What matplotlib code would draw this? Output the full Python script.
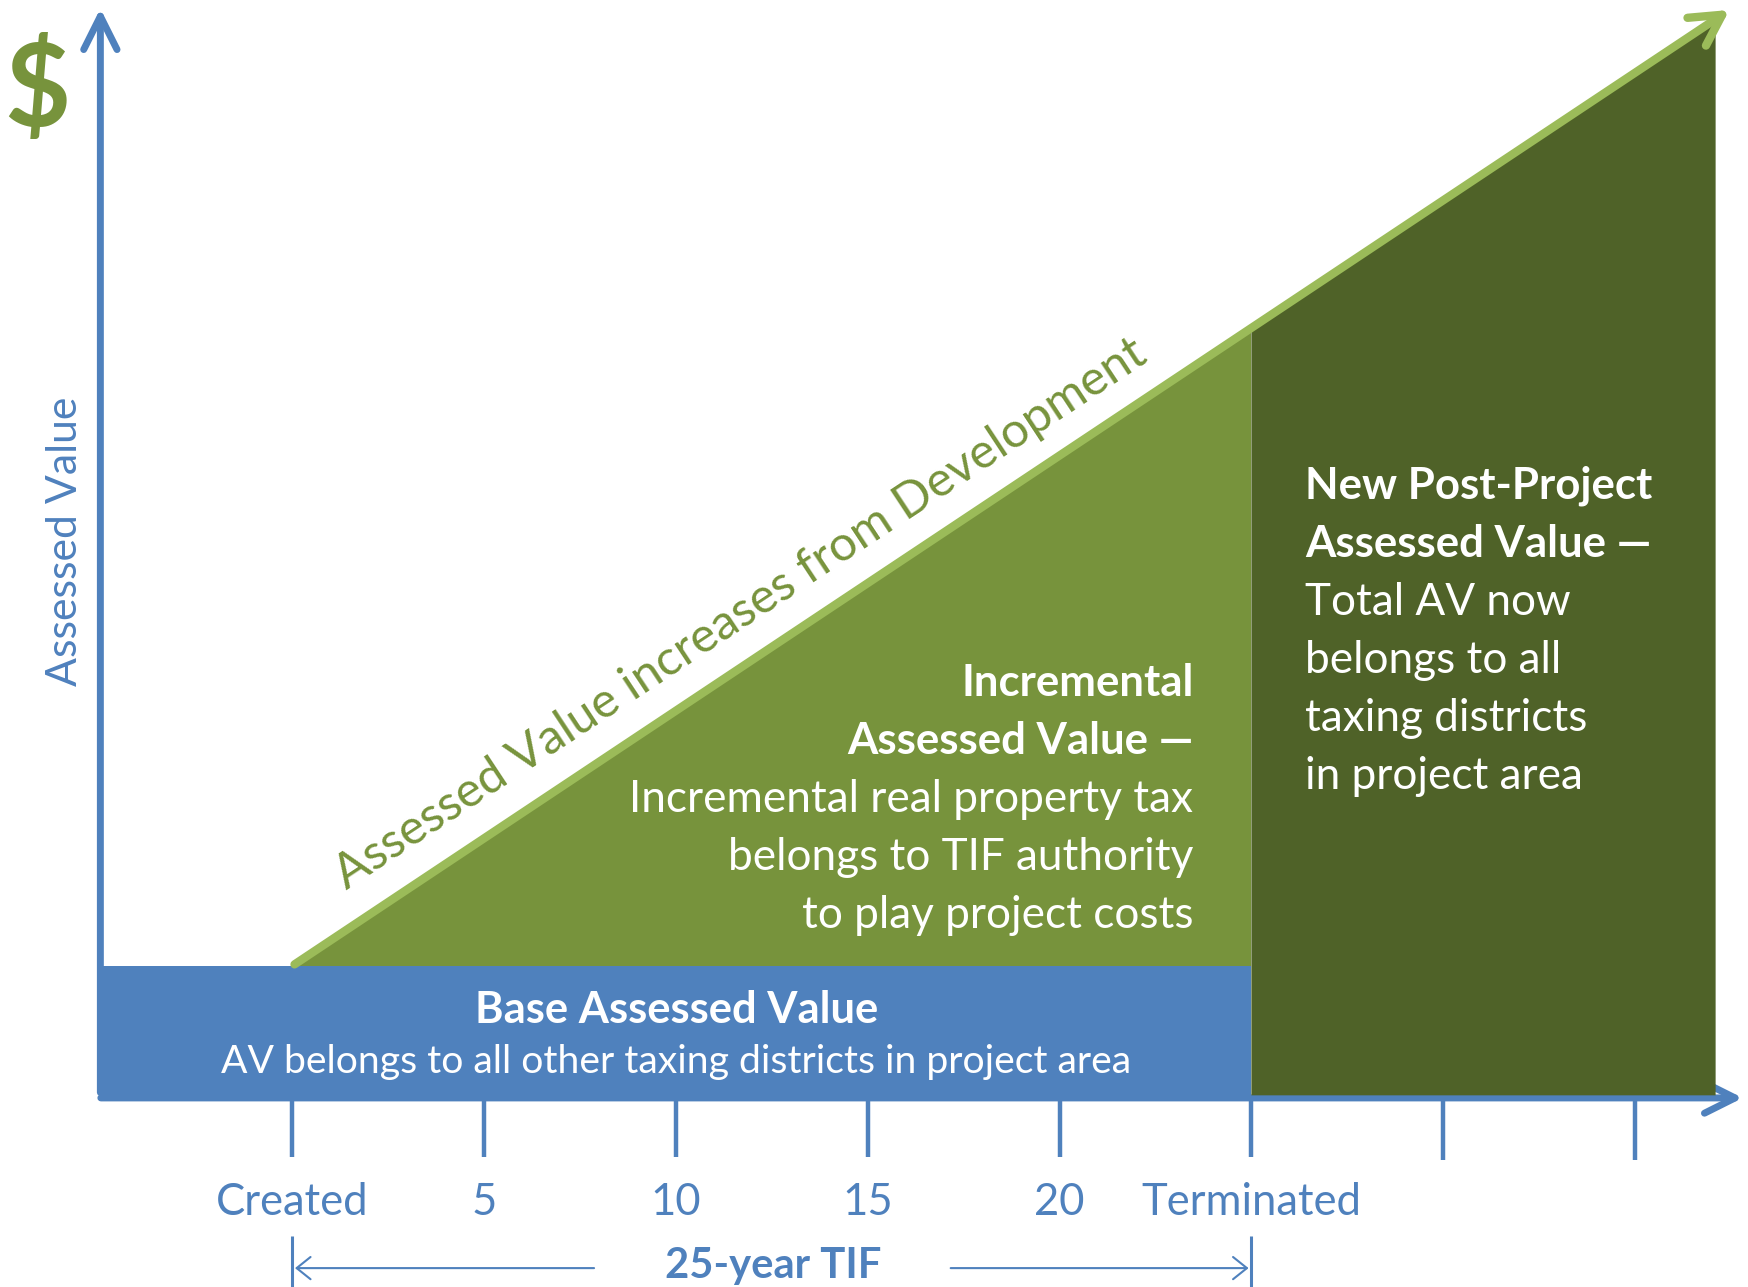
import matplotlib
matplotlib.use("Agg")
import matplotlib.pyplot as plt
from matplotlib.patches import FancyArrowPatch, Polygon

# ---------------- data ----------------
tick_years = [0, 5, 10, 15, 20, 25, 30, 35]
tick_labels = ["Created", "5", "10", "15", "20", "Terminated", "", ""]
tif_start_year = 0
tif_end_year = 25
axis_origin_year = -5
base_av = 1.0
av_years = [0, 25, 37.1]          # assessed value trajectory
av_values = [1.0, 5.93, 8.31]
arrow_tip_year = 37.52
y_axis_top = 8.42
x_axis_end = 37.88

title_base = "Base Assessed Value"
text_base = "AV belongs to all other taxing districts in project area"
title_incr = ["Incremental", "Assessed Value \u2014"]
text_incr = ["Incremental real property tax", "belongs to TIF authority", "to play project costs"]
title_post = ["New Post-Project", "Assessed Value \u2014"]
text_post = ["Total AV now", "belongs to all", "taxing districts", "in project area"]
diag_text = "Assessed Value increases from Development"
y_label = "Assessed Value"
span_label = "25-year TIF"

# ---------------- style ----------------
BLUE = "#4F81BD"
GREEN = "#77933C"
LIGHT = "#9BBB59"
DARK = "#4F6228"
FONT = ["Lato", "DejaVu Sans"]

fig = plt.figure(figsize=(17.49, 12.87), dpi=100)
ax = fig.add_axes([0, 0, 1, 1])
ax.set_xlim(-7.616, 37.97)
ax.set_ylim(-1.481, 8.464)
ax.axis("off")

fig.canvas.draw()
renderer = fig.canvas.get_renderer()


def fit(s, target_px, weight="normal"):
    t = fig.text(0, 0, s, fontsize=100, fontweight=weight, family=FONT)
    w = t.get_window_extent(renderer).width
    t.remove()
    return 100.0 * target_px / w


slope = (av_values[1] - av_values[0]) / (av_years[1] - av_years[0])
tip_value = av_values[0] + slope * (arrow_tip_year - av_years[0])

# ---------------- axes ----------------
ax.add_patch(FancyArrowPatch((axis_origin_year, 0), (axis_origin_year, y_axis_top),
                             arrowstyle="->,head_length=24,head_width=12", mutation_scale=1,
                             color=BLUE, lw=5, capstyle="round", joinstyle="round", zorder=1))
ax.add_patch(FancyArrowPatch((axis_origin_year - 0.06, -0.02), (x_axis_end, -0.02),
                             arrowstyle="->,head_length=22,head_width=11", mutation_scale=1,
                             color=BLUE, lw=5, capstyle="round", joinstyle="round", zorder=1))

# ---------------- regions ----------------
ax.fill_between([axis_origin_year - 0.06, tif_end_year], 0, base_av, color=BLUE, lw=0, zorder=2)
ax.add_patch(Polygon([(av_years[0], base_av), (av_years[1], base_av), (av_years[1], av_values[1])],
                     closed=True, facecolor=GREEN, lw=0, zorder=2))
ax.add_patch(Polygon([(av_years[1], 0), (av_years[2], 0), (av_years[2], av_values[2]),
                      (av_years[1], av_values[1])],
                     closed=True, facecolor=DARK, lw=0, zorder=2))

# growth arrow
ax.add_patch(FancyArrowPatch((av_years[0], av_values[0]), (arrow_tip_year, tip_value),
                             arrowstyle="->,head_length=22,head_width=12", mutation_scale=1,
                             color=LIGHT, lw=6, capstyle="round", joinstyle="round", zorder=3))

# ---------------- ticks ----------------
for yr in tick_years:
    ax.plot([yr, yr], [0, -0.474 if yr < 30 else -0.5], color=BLUE, lw=3.2, zorder=1,
            solid_capstyle="butt")

tick_fs = fit("Terminated", 220)
for yr, lab in zip(tick_years, tick_labels):
    if lab:
        ax.text(yr, -0.923, lab, ha="center", va="baseline", color=BLUE, fontsize=tick_fs, family=FONT)

# ---------------- span arrows (25-year TIF) ----------------
for yr in (tif_start_year, tif_end_year):
    ax.plot([yr, yr], [-1.09, -1.49], color=BLUE, lw=2.2, solid_capstyle="butt")
ax.add_patch(FancyArrowPatch((7.94, -1.335), (tif_start_year, -1.335),
                             arrowstyle="->,head_length=10,head_width=8", mutation_scale=1,
                             color=BLUE, lw=1.5))
ax.add_patch(FancyArrowPatch((17.09, -1.335), (tif_end_year, -1.335),
                             arrowstyle="->,head_length=10,head_width=8", mutation_scale=1,
                             color=BLUE, lw=1.5))
ax.text(12.53, -1.412, span_label, ha="center", va="baseline", color=BLUE,
        fontsize=fit(span_label, 216, "bold"), fontweight="bold", family=FONT)

# ---------------- labels ----------------
ax.text(-6.65, 7.76, "$", ha="center", va="center", color=GREEN, fontsize=82,
        fontweight="bold", family=FONT)
ax.text(-5.61, 4.283, y_label, rotation=90, rotation_mode="anchor", ha="center", va="baseline",
        color=BLUE, fontsize=fit(y_label, 290), family=FONT)

ax.text(11.87, 3.627, diag_text, rotation=33.4, rotation_mode="anchor", ha="center", va="baseline",
        color=GREEN, fontsize=fit(diag_text, 963), family=FONT, zorder=4)

# base block
ax.text(10.03, 0.560, title_base, ha="center", va="baseline", color="white",
        fontsize=fit(title_base, 402.6, "bold"), fontweight="bold", family=FONT, zorder=4)
ax.text(10.0, 0.172, text_base, ha="center", va="baseline", color="white",
        fontsize=fit(text_base, 910), family=FONT, zorder=4)

body_fs = 0.5 * (fit(text_incr[0], 568) + fit(text_incr[1], 461))
bold_fs = 0.5 * (fit(title_post[0], 342, "bold") + fit(title_post[1], 352.5, "bold"))
step = 0.448

# incremental block (right aligned)
incr_base = 3.085
for i, s in enumerate(title_incr):
    ax.text(23.49, incr_base - i * step, s, ha="right", va="baseline", color="white",
            fontsize=bold_fs, fontweight="bold", family=FONT, zorder=4)
for i, s in enumerate(text_incr):
    ax.text(23.49, incr_base - (i + 2) * step, s, ha="right", va="baseline", color="white",
            fontsize=body_fs, family=FONT, zorder=4)

# post project block (left aligned)
post_base = 4.611
for i, s in enumerate(title_post):
    ax.text(26.40, post_base - i * step, s, ha="left", va="baseline", color="white",
            fontsize=bold_fs, fontweight="bold", family=FONT, zorder=4)
for i, s in enumerate(text_post):
    ax.text(26.40, post_base - (i + 2) * step, s, ha="left", va="baseline", color="white",
            fontsize=body_fs, family=FONT, zorder=4)

fig.savefig("out.png", dpi=100, facecolor="white")
